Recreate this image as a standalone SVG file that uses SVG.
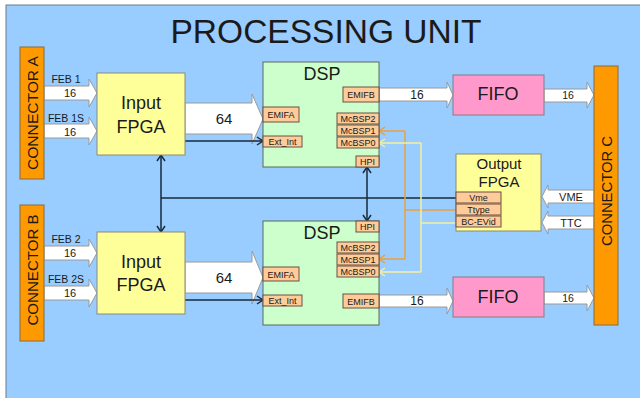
<svg xmlns="http://www.w3.org/2000/svg" width="640" height="398" viewBox="0 0 640 398">
<style>
.t{font-family:"Liberation Sans",Arial,sans-serif;fill:#1a1a1a;text-anchor:middle}
.conn{fill:#FF9900;stroke:#8a6a3a;stroke-width:1}
.fpga{fill:#FFFF99;stroke:#8a8a7a;stroke-width:1}
.dsp{fill:#CCFFCC;stroke:#5a6a5a;stroke-width:1}
.port{fill:#FFCC99;stroke:#6a5040;stroke-width:1}
.fifo{fill:#FF99CC;stroke:#8a7a80;stroke-width:1}
.barr{fill:#FFFFFF;stroke:#9a9a9a;stroke-width:1}
.blk{fill:none;stroke:#1a2a3a;stroke-width:1.5}
.org{fill:none;stroke:#E8A040;stroke-width:1.5}
.yel{fill:none;stroke:#F5F0A0;stroke-width:1.5}
.ps{font-size:9px}
</style>
<defs>
<marker id="chk" markerWidth="10" markerHeight="10" refX="7" refY="5" orient="auto-start-reverse" markerUnits="userSpaceOnUse">
<path d="M1,1 L7,5 L1,9" fill="none" stroke="#1a2a3a" stroke-width="1.5"/>
</marker>
<marker id="cho" markerWidth="10" markerHeight="10" refX="7" refY="5" orient="auto" markerUnits="userSpaceOnUse">
<path d="M1,1 L7,5 L1,9" fill="none" stroke="#E8A040" stroke-width="1.5"/>
</marker>
<marker id="chy" markerWidth="10" markerHeight="10" refX="7" refY="5" orient="auto" markerUnits="userSpaceOnUse">
<path d="M1,1 L7,5 L1,9" fill="none" stroke="#F5F0A0" stroke-width="1.5"/>
</marker>
</defs>
<rect x="0" y="0" width="640" height="398" fill="#FFFFFF"/>
<rect x="6" y="5" width="640" height="398" fill="#99CCFF" stroke="#6a7a8a" stroke-width="1"/>
<text class="t" x="326" y="43" font-size="34" textLength="311" lengthAdjust="spacingAndGlyphs">PROCESSING UNIT</text>

<g id="connectors">
<!-- bus arrows -->
<path class="barr" d="M44,86 H89 V79 L97,93 L89,107 V100 H44 Z"/>
<path class="barr" d="M44,124 H89 V117 L97,131 L89,145 V138 H44 Z"/>
<path class="barr" d="M44,246 H89 V239 L97,253 L89,267 V260 H44 Z"/>
<path class="barr" d="M44,286 H89 V279 L97,293 L89,307 V300 H44 Z"/>
<path class="barr" d="M185,103 H252 V94 L263,119 L252,144 V134 H185 Z"/>
<path class="barr" d="M185,262 H252 V251 L263,277.5 L252,304 V293 H185 Z"/>
<path class="barr" d="M379,88 H447 V82 L453,95 L447,108 V101 H379 Z"/>
<path class="barr" d="M379,295 H447 V288 L453,301 L447,314 V307 H379 Z"/>
<path class="barr" d="M544,89 H587 V82 L594,95 L587,108 V102 H544 Z"/>
<path class="barr" d="M544,292 H587 V285 L594,298 L587,311 V304 H544 Z"/>
<path class="barr" d="M594,190 H548 V185 L542,196.5 L548,208 V203 H594 Z"/>
<path class="barr" d="M594,216 H548 V211 L542,222.5 L548,234 V229 H594 Z"/>
<text class="t" x="66" y="83" font-size="10.5" fill="#222">FEB 1</text>
<text class="t" x="70" y="97" font-size="11">16</text>
<text class="t" x="66" y="122" font-size="10.5">FEB 1S</text>
<text class="t" x="70" y="136" font-size="11">16</text>
<text class="t" x="66" y="243" font-size="10.5">FEB 2</text>
<text class="t" x="70" y="257" font-size="11">16</text>
<text class="t" x="66" y="283" font-size="10.5">FEB 2S</text>
<text class="t" x="70" y="297" font-size="11">16</text>
<text class="t" x="224" y="124" font-size="15">64</text>
<text class="t" x="224" y="283" font-size="15">64</text>
<text class="t" x="417" y="99" font-size="12">16</text>
<text class="t" x="417" y="305" font-size="12">16</text>
<text class="t" x="568" y="99" font-size="10.5">16</text>
<text class="t" x="568" y="302" font-size="10.5">16</text>
<text class="t" x="571" y="200.5" font-size="11">VME</text>
<text class="t" x="571" y="226.5" font-size="11">TTC</text>
<!-- control lines -->
<path class="blk" d="M185,141 H263" marker-end="url(#chk)"/>
<path class="blk" d="M185,300 H263" marker-end="url(#chk)"/>
<path class="blk" d="M161,155 V232" marker-start="url(#chk)" marker-end="url(#chk)"/>
<path class="blk" d="M161,198 H456"/>
<path class="blk" d="M367,167 V221" marker-start="url(#chk)" marker-end="url(#chk)"/>
<path class="org" d="M405,131 V259"/>
<path class="org" d="M405,131 H379" marker-end="url(#cho)"/>
<path class="org" d="M405,259 H379" marker-end="url(#cho)"/>
<path class="org" d="M405,210 H456"/>
<path class="yel" d="M421,143 V272"/>
<path class="yel" d="M421,143 H379" marker-end="url(#chy)"/>
<path class="yel" d="M421,272 H379" marker-end="url(#chy)"/>
<path class="yel" d="M421,223 H456"/>
</g>

<g id="connA">
<rect class="conn" x="20" y="47" width="24" height="132"/>
<text class="t" font-size="15" transform="translate(37.5,113) rotate(-90)" textLength="114" lengthAdjust="spacingAndGlyphs">CONNECTOR A</text>
</g>
<g id="connB">
<rect class="conn" x="20" y="205" width="24" height="136"/>
<text class="t" font-size="15" transform="translate(37.5,270) rotate(-90)" textLength="111" lengthAdjust="spacingAndGlyphs">CONNECTOR B</text>
</g>
<g id="connC">
<rect class="conn" x="594" y="66" width="24" height="259"/>
<text class="t" font-size="15" transform="translate(611.5,191) rotate(-90)" textLength="110" lengthAdjust="spacingAndGlyphs">CONNECTOR C</text>
</g>

<g id="fpga1">
<rect class="fpga" x="97" y="73" width="88" height="82"/>
<text class="t" x="141" y="109" font-size="18">Input</text>
<text class="t" x="141" y="133" font-size="18">FPGA</text>
</g>
<g id="fpga2">
<rect class="fpga" x="97" y="232" width="88" height="82"/>
<text class="t" x="141" y="268" font-size="18">Input</text>
<text class="t" x="141" y="291" font-size="18">FPGA</text>
</g>

<g id="dsp1">
<rect class="dsp" x="263" y="62" width="116" height="105"/>
<text class="t" x="322" y="80" font-size="18">DSP</text>
<rect class="port" x="343" y="87" width="36" height="15"/>
<text class="t ps" x="361" y="98">EMIFB</text>
<rect class="port" x="263" y="107" width="36" height="15"/>
<text class="t ps" x="281" y="118">EMIFA</text>
<rect class="port" x="263" y="136" width="39" height="11"/>
<text class="t ps" x="282.5" y="145">Ext_Int</text>
<rect class="port" x="337" y="113" width="42" height="11"/>
<text class="t ps" x="358" y="122">McBSP2</text>
<rect class="port" x="337" y="125" width="42" height="11"/>
<text class="t ps" x="358" y="134">McBSP1</text>
<rect class="port" x="337" y="137" width="42" height="11"/>
<text class="t ps" x="358" y="146">McBSP0</text>
<rect class="port" x="356" y="156" width="23" height="11"/>
<text class="t ps" x="367.5" y="165">HPI</text>
</g>

<g id="dsp2">
<rect class="dsp" x="263" y="221" width="116" height="104"/>
<text class="t" x="322" y="239" font-size="18">DSP</text>
<rect class="port" x="356" y="221" width="23" height="11"/>
<text class="t ps" x="367.5" y="230">HPI</text>
<rect class="port" x="337" y="242" width="42" height="11"/>
<text class="t ps" x="358" y="251">McBSP2</text>
<rect class="port" x="337" y="254" width="42" height="11"/>
<text class="t ps" x="358" y="263">McBSP1</text>
<rect class="port" x="337" y="266" width="42" height="11"/>
<text class="t ps" x="358" y="275">McBSP0</text>
<rect class="port" x="263" y="267" width="36" height="14"/>
<text class="t ps" x="281" y="277.5">EMIFA</text>
<rect class="port" x="263" y="295" width="39" height="11"/>
<text class="t ps" x="282.5" y="304">Ext_Int</text>
<rect class="port" x="343" y="294" width="36" height="14"/>
<text class="t ps" x="361" y="304.5">EMIFB</text>
</g>

<g id="fifo1">
<rect class="fifo" x="453" y="75" width="91" height="40"/>
<text class="t" x="498" y="99.5" font-size="18">FIFO</text>
</g>
<g id="fifo2">
<rect class="fifo" x="453" y="277" width="91" height="40"/>
<text class="t" x="498" y="302.5" font-size="18">FIFO</text>
</g>

<g id="outfpga">
<rect class="fpga" x="456" y="154" width="85" height="77"/>
<text class="t" x="499" y="169" font-size="15">Output</text>
<text class="t" x="499" y="187" font-size="15">FPGA</text>
<rect class="port" x="456" y="192" width="45" height="11"/>
<text class="t ps" x="478.5" y="201">Vme</text>
<rect class="port" x="456" y="204" width="45" height="11"/>
<text class="t ps" x="478.5" y="213">Ttype</text>
<rect class="port" x="456" y="216" width="45" height="11"/>
<text class="t ps" x="478.5" y="225">BC-EVid</text>
</g>
</svg>
